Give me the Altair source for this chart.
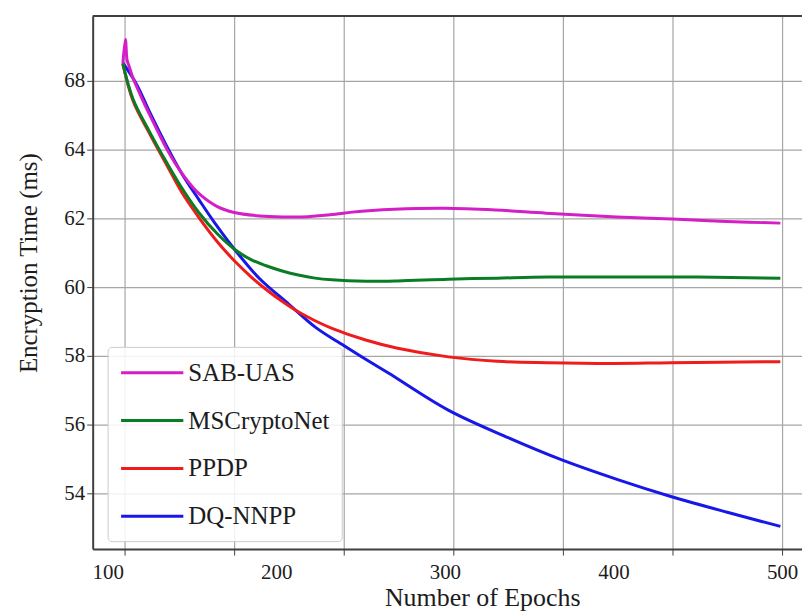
import altair as alt
import pandas as pd

# ---------------- data ----------------
SERIES = ["SAB-UAS", "MSCryptoNet", "PPDP", "DQ-NNPP"]
COLORS = ["#d41ec6", "#0a7d24", "#ee1c1c", "#1717e8"]

SAB_EPOCHS = [109, 110.5, 111.5, 112.5, 115, 120, 125, 130, 135, 140, 145, 150, 155,
              165, 175, 190, 205, 215, 235, 245, 270, 300, 330, 360, 402, 435, 467, 499]
SAB_TIME = [66.5, 67.2, 66.6, 66.45, 66.08, 65.52, 65.0, 64.5, 64.02, 63.6, 63.24, 62.93, 62.68,
            62.34, 62.17, 62.07, 62.04, 62.04, 62.12, 62.18, 62.26, 62.29, 62.24, 62.15, 62.04,
            61.98, 61.91, 61.86]

MS_EPOCHS = [109, 115, 125, 135, 144, 154, 165, 176, 185, 194, 204, 213, 223, 233,
             253, 272, 302, 331, 361, 402, 450, 499]
MS_TIME = [66.49, 65.47, 64.5, 63.62, 62.88, 62.17, 61.55, 61.07, 60.8, 60.62,
           60.46, 60.35, 60.26, 60.21, 60.17, 60.18, 60.23, 60.26, 60.29, 60.29, 60.29, 60.26]

PPDP_EPOCHS = [109, 115, 125, 135, 144, 154, 165, 176, 185, 194, 203, 213, 223, 233, 253,
               272, 302, 331, 361, 400, 434, 499]
PPDP_TIME = [66.49, 65.42, 64.45, 63.55, 62.75, 62.03, 61.32, 60.72, 60.3, 59.93, 59.6, 59.28,
             59.02, 58.8, 58.46, 58.22, 57.97, 57.84, 57.8, 57.78, 57.8, 57.83]

DQ_EPOCHS = [109, 117, 125, 135, 144, 154, 164, 176, 190, 207.5, 223.5, 240, 253, 266.5,
             302, 337.5, 369, 402.5, 434, 467.5, 499]
DQ_TIME = [66.52, 65.91, 65.08, 64.1, 63.3, 62.55, 61.83, 61.05, 60.25, 59.5, 58.82, 58.3,
           57.9, 57.5, 56.42, 55.62, 54.98, 54.4, 53.91, 53.45, 53.04]

# axis ticks / labels
X_LABELS = [100, 200, 300, 400, 500]
X_GRID = [110, 175, 240, 305, 370, 435, 500]
Y_TICKS = [54, 56, 58, 60, 62, 64, 66]
Y_TOP_LABEL = {66: "68"}          # the reference labels its top gridline "68"

X_DOMAIN = [91.09, 511.82]
Y_DOMAIN = [52.38, 67.88]

# ---------------- build table ----------------
rows = []
for name, eps, vals in [("DQ-NNPP", DQ_EPOCHS, DQ_TIME),
                        ("PPDP", PPDP_EPOCHS, PPDP_TIME),
                        ("MSCryptoNet", MS_EPOCHS, MS_TIME),
                        ("SAB-UAS", SAB_EPOCHS, SAB_TIME)]:
    for e, v in zip(eps, vals):
        rows.append({"series": name, "epoch": e, "time": v})
df = pd.DataFrame(rows)

FONT = "Liberation Serif"
TXT = "#1c1c1c"
GRID = "#a6a6a6"
DOMAIN = "#3f3f3f"

x_scale = alt.Scale(domain=X_DOMAIN, nice=False, zero=False)
y_scale = alt.Scale(domain=Y_DOMAIN, nice=False, zero=False)

grid_test = "indexof([" + ",".join(str(v) for v in X_GRID) + "], datum.value) >= 0"
x_values = sorted(set(X_LABELS + X_GRID))

x_axis = alt.Axis(
    values=x_values,
    labelExpr="datum.value % 100 === 0 ? datum.label : ''",
    labelOverlap=False,
    labelFlush=False,
    gridOpacity={"condition": {"test": grid_test, "value": 1}, "value": 0},
    tickOpacity={"condition": {"test": grid_test, "value": 1}, "value": 0},
    gridColor=GRID,
    gridWidth=1.2,
    tickColor=DOMAIN,
    tickSize=6,
    labelPadding=7,
    labelFont=FONT,
    labelFontSize=21,
    labelColor=TXT,
    domainColor=DOMAIN,
    domainWidth=2,
    title="Number of Epochs",
    titleFont=FONT,
    titleFontSize=26,
    titleFontWeight="normal",
    titleColor=TXT,
    titleX=391,
    titleY=57,
    titleAlign="center",
    titleBaseline="alphabetic",
)

y_label_expr = " : ".join(
    [f"datum.value == {k} ? '{v}'" for k, v in Y_TOP_LABEL.items()] + ["datum.label"]
)

y_axis = alt.Axis(
    values=Y_TICKS,
    labelExpr=y_label_expr,
    labelFlush=False,
    labelOverlap=False,
    gridColor=GRID,
    gridWidth=1.2,
    tickColor=DOMAIN,
    tickSize=6,
    labelPadding=2,
    labelFont=FONT,
    labelFontSize=21,
    labelColor=TXT,
    domainColor=DOMAIN,
    domainWidth=2,
    title="Encryption Time (ms)",
    titleFont=FONT,
    titleFontSize=25,
    titleFontWeight="normal",
    titleColor=TXT,
    titleAngle=270,
    titleX=-56,
    titleY=247.5,
    titleAlign="center",
    titleBaseline="alphabetic",
)

legend = alt.Legend(
    title=None,
    orient="none",
    legendX=15,
    legendY=332,
    padding=12,
    rowPadding=21,
    symbolType="M-1,0L4,0",
    symbolSize=625,
    symbolStrokeWidth=3,
    labelOffset=41,
    labelFont=FONT,
    labelFontSize=25,
    labelColor=TXT,
    labelBaseline="middle",
    fillColor="rgba(255,255,255,0.85)",
    strokeColor="#cccccc",
    cornerRadius=4,
    zindex=1,
)

lines = alt.Chart(df).mark_line(strokeWidth=3, interpolate="catmull-rom", clip=True).encode(
    x=alt.X("epoch:Q", scale=x_scale, axis=x_axis),
    y=alt.Y("time:Q", scale=y_scale, axis=y_axis),
    color=alt.Color("series:N", scale=alt.Scale(domain=SERIES, range=COLORS), legend=legend),
    detail="series:N",
)

top_border = alt.Chart(pd.DataFrame({"time": [Y_DOMAIN[1]]})).mark_rule(
    color=DOMAIN, strokeWidth=2
).encode(y=alt.Y("time:Q", scale=y_scale, axis=y_axis))

chart = alt.layer(lines, top_border).properties(
    width=712,
    height=535,
    autosize=alt.AutoSizeParams(type="none"),
    padding={"left": 85, "top": 7, "right": 0, "bottom": 65},
    background="white",
).configure_view(stroke=None)

chart.save("out.html", embed_options={"renderer": "svg", "actions": False})
